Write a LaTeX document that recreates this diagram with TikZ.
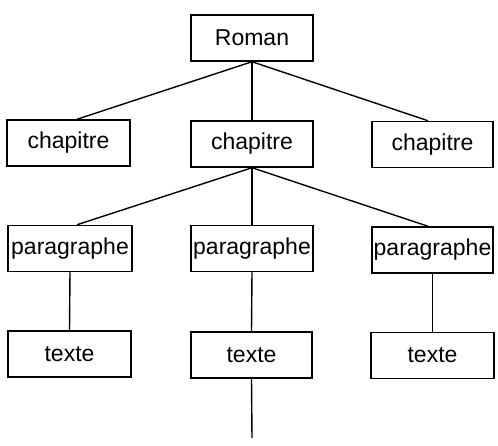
\documentclass[tikz,border=0pt]{standalone}
\usepackage{fontspec}
\setmainfont{Liberation Sans}
\begin{document}
\begin{tikzpicture}[x=1pt,y=-1pt,
  box/.style={draw,line width=1.5pt,rectangle,inner sep=0pt,minimum width=#1,minimum height=46pt,font=\fontsize{23}{27}\selectfont},
  box/.default=122pt,
  link/.style={line width=1.4pt}]
\useasboundingbox (0,0) rectangle (498,446);
\node[box] (R) at (252,38) {Roman};
\node[box=123pt] (c1) at (68.5,143) {chapitre};
\node[box] (c2) at (252,144) {chapitre};
\node[box=121pt] (c3) at (432.5,144.5) {chapitre};
\node[box=124pt] (p1) at (70,248.5) {paragraphe};
\node[box] (p2) at (252,248.5) {paragraphe};
\node[box=121pt] (p3) at (432.5,250) {paragraphe};
\node[box=123pt] (t1) at (69.5,354) {texte};
\node[box=121pt] (t2) at (251.5,355) {texte};
\node[box=123pt] (t3) at (432.5,355.5) {texte};
\coordinate (tail) at (252,438);
\draw[link] (R.south) -- ([xshift=8.5pt]c1.north);
\draw[link] (R.south) -- (c2.north);
\draw[link] (R.south) -- ([xshift=-4.5pt]c3.north);
\draw[link] (c2.south) -- ([xshift=7pt]p1.north);
\draw[link] (c2.south) -- (p2.north);
\draw[link] (c2.south) -- ([xshift=-4.5pt]p3.north);
\draw[link] (p1.south) -- (t1.north);
\draw[link] (p2.south) -- (t2.north);
\draw[link] (p3.south) -- (t3.north);
\draw[link] (t2.south) -- (tail);
\end{tikzpicture}
\end{document}
